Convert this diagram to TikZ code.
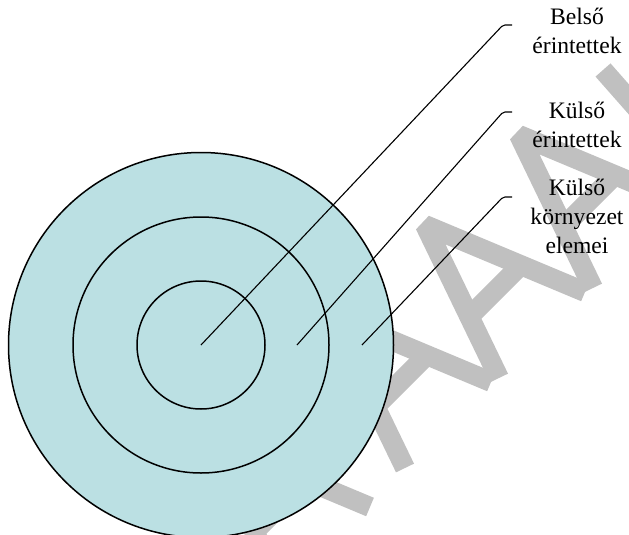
\documentclass[tikz,border=0pt]{standalone}
\usepackage{fontspec}
\setmainfont{Liberation Serif}
\usetikzlibrary{calc}
\definecolor{ringfill}{RGB}{187,224,227}
\definecolor{wmgray}{RGB}{192,192,192}
\tikzset{
    ring/.style={draw=black, line width=1.5pt},
    leader/.style={draw=black, line width=1.1pt, rounded corners=2pt},
    ringlabel/.style={align=center, inner sep=0pt, font=\fontsize{23.6}{29}\selectfont},
    wmstroke/.style={draw=wmgray, line width=20pt, line join=bevel}
}
% one watermark letter, apex at (#1,#2)
\newcommand{\wmletter}[2]{%
    \draw[wmstroke] (#1+74,#2+153) -- (#1,#2) -- (#1+160,#2+67);
    \draw[wmstroke] (#1+44,#2+92) -- (#1+96,#2+40);
}

\begin{document}
\begin{tikzpicture}[x=1pt, y=-1pt]
    \useasboundingbox (0,0) rectangle (629,535);

    % watermark
    \wmletter{519}{135}
    \wmletter{425}{225}
    \wmletter{331}{315}
    \wmletter{210}{440}
    \draw[wmstroke] (603,70) -- (640,112);

    % rings
    \coordinate (core) at (201,345);
    \draw[ring, fill=ringfill] (core) circle[radius=192.5];
    \draw[ring] (core) circle[radius=128];
    \draw[ring] (core) circle[radius=64];
    \coordinate (midpt) at (297,345);
    \coordinate (outpt) at (362,345);

    % labels (base = last line)
    \node[ringlabel, anchor=base] (belso) at (577,54) {Belső\\érintettek};
    \node[ringlabel, anchor=base] (kulso) at (577,147) {Külső\\érintettek};
    \node[ringlabel, anchor=base] (kornyezet) at (577,253) {Külső\\környezet\\elemei};

    % leaders
    \coordinate (k1) at (503,25);  \coordinate (e1) at (512,25);
    \coordinate (k2) at (503,112); \coordinate (e2) at (512,112);
    \coordinate (k3) at (503,197); \coordinate (e3) at (512,197);
    \draw[leader] (core) -- (k1) -- (e1);
    \draw[leader] (midpt) -- (k2) -- (e2);
    \draw[leader] (outpt) -- (k3) -- (e3);
\end{tikzpicture}
\end{document}
